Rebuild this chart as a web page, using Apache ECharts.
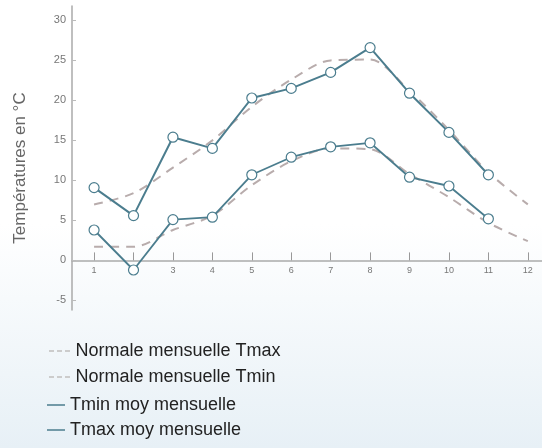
<!DOCTYPE html>
<html>
<head>
<meta charset="utf-8">
<script src="https://cdn.jsdelivr.net/npm/echarts@6/dist/echarts.min.js"></script>
<style>
html,body{margin:0;padding:0;}
#c{width:542px;height:448px;}
</style>
</head>
<body>
<div id="c"></div>
<script>
var months = [1,2,3,4,5,6,7,8,9,10,11,12];
var monthLabels = ['1','2','3','4','5','6','7','8','9','10','11','12'];
var yTicks = [-5,0,5,10,15,20,25,30];
var normTmax = [7.0, 8.4, 11.6, 15.0, 19.2, 22.6, 25.0, 25.1, 21.2, 16.3, 11.0, 7.0];
var normTmin = [1.7, 1.7, 3.8, 5.6, 9.4, 12.4, 14.0, 13.9, 10.8, 7.9, 4.7, 2.4];
var tminMoy = [3.8, -1.2, 5.1, 5.4, 10.7, 12.9, 14.2, 14.7, 10.4, 9.3, 5.2];
var tmaxMoy = [9.1, 5.6, 15.4, 14.0, 20.3, 21.5, 23.5, 26.6, 20.9, 16.0, 10.7];

function pairs(arr){ return arr.map(function(v,i){ return [months[i], v]; }); }

var teal = '#4b7d8e';
var dashCol = '#b8acac';
var dashIcon = 'path://M0,0h5v2h-5z M8,0h5v2h-5z M16,0h5v2h-5z';

var yMin = -6.2, yMax = 31.8, gTop = 6, gBottom = 138, H = 448;
var plotH = H - gTop - gBottom;
var zeroY = gTop + (yMax - 0) / (yMax - yMin) * plotH;
var xOffset = -((H - gBottom) - zeroY);

var chart = echarts.init(document.getElementById('c'));
chart.setOption({
  backgroundColor: {
    type: 'linear', x: 0, y: 0, x2: 0, y2: 1,
    colorStops: [{offset: 0, color: '#ffffff'}, {offset: 0.5, color: '#ffffff'}, {offset: 1, color: '#e7f0f6'}]
  },
  animation: false,
  grid: {left: 72, right: 0, top: gTop, bottom: gBottom},
  xAxis: {
    type: 'value', min: 0.44, max: 12.36, position: 'bottom', offset: xOffset,
    axisLine: {onZero: false, lineStyle: {color: '#aaaaaa', width: 1.5}},
    axisTick: {show: true, inside: true, length: 8, customValues: months, lineStyle: {color: '#999999'}},
    axisLabel: {customValues: months, formatter: function(v){ return monthLabels[Math.round(v)-1]; }, color: '#777777', fontSize: 9, margin: 6, fontFamily: 'Liberation Sans'},
    splitLine: {show: false}
  },
  yAxis: {
    type: 'value', min: yMin, max: yMax,
    name: 'Températures en °C', nameLocation: 'middle', nameGap: 43,
    nameTextStyle: {color: '#666666', fontSize: 17, fontFamily: 'Liberation Sans', padding: [0, 20, 0, 0]},
    axisLine: {show: true, lineStyle: {color: '#aaaaaa', width: 1.5}},
    axisTick: {show: true, inside: true, length: 4, customValues: yTicks, lineStyle: {color: '#bbbbbb'}},
    axisLabel: {customValues: yTicks, color: '#777777', fontSize: 11, margin: 6, fontFamily: 'Liberation Sans'},
    splitLine: {show: false}
  },
  legend: [{
    orient: 'vertical', left: 44, top: 337, itemGap: 8, itemWidth: 22, itemHeight: 2,
    textStyle: {color: '#222222', fontSize: 18, fontFamily: 'Liberation Sans'},
    data: [
      {name: 'Normale mensuelle Tmax', icon: dashIcon, itemStyle: {color: '#cccccc', borderWidth: 0}},
      {name: 'Normale mensuelle Tmin', icon: dashIcon, itemStyle: {color: '#cccccc', borderWidth: 0}}
    ]
  }, {
    orient: 'vertical', left: 42, top: 391, itemGap: 7, itemWidth: 18, itemHeight: 1.5,
    textStyle: {color: '#222222', fontSize: 18, fontFamily: 'Liberation Sans'},
    data: [
      {name: 'Tmin moy mensuelle', icon: 'rect', itemStyle: {color: teal, borderWidth: 0}},
      {name: 'Tmax moy mensuelle', icon: 'rect', itemStyle: {color: teal, borderWidth: 0}}
    ]
  }],
  series: [
    {name: 'Normale mensuelle Tmax', type: 'line', data: pairs(normTmax), symbol: 'none', smooth: 0.3,
     lineStyle: {color: dashCol, width: 2, type: [9, 7]}, itemStyle: {color: '#cccccc'}, z: 1},
    {name: 'Normale mensuelle Tmin', type: 'line', data: pairs(normTmin), symbol: 'none', smooth: 0.3,
     lineStyle: {color: dashCol, width: 2, type: [9, 7]}, itemStyle: {color: '#cccccc'}, z: 1},
    {name: 'Tmin moy mensuelle', type: 'line', data: pairs(tminMoy), symbol: 'circle', symbolSize: 10,
     lineStyle: {color: teal, width: 1.8}, itemStyle: {color: '#ffffff', borderColor: teal, borderWidth: 1.2}, z: 3},
    {name: 'Tmax moy mensuelle', type: 'line', data: pairs(tmaxMoy), symbol: 'circle', symbolSize: 10,
     lineStyle: {color: teal, width: 2}, itemStyle: {color: '#ffffff', borderColor: teal, borderWidth: 1.2}, z: 3}
  ]
});
</script>
</body>
</html>
